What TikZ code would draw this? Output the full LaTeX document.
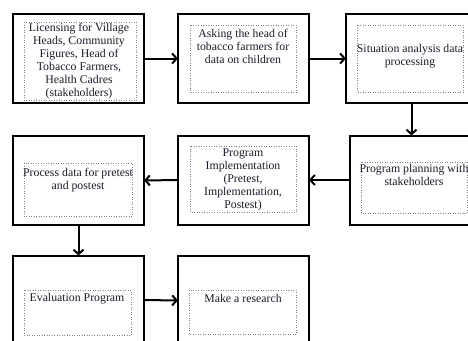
\documentclass[tikz,border=0pt]{standalone}
\usepackage{fontspec}
\setmainfont{Liberation Serif}
\usetikzlibrary{arrows.meta}
\definecolor{txt}{HTML}{1A1A2A}
\definecolor{dotc}{HTML}{808080}
\tikzset{
  outerbox/.style={draw=black, line width=2pt, minimum width=131pt, minimum height=89pt, inner sep=0pt, outer sep=0pt},
  innerbox/.style={draw=dotc, line width=0.5pt, dotted},
  lbl/.style={align=center, anchor=north, inner sep=0pt, text=txt, font=\fontsize{11.8}{13}\selectfont},
  arr/.style={line width=2pt, -{Straight Barb[length=4.5pt,width=10pt,line width=2pt]}}
}
\begin{document}
\begin{tikzpicture}[x=1pt,y=-1pt]
\useasboundingbox (0,0) rectangle (468,340);
\begin{scope}
\clip (0,0) rectangle (468,340);
% outer boxes
\node[outerbox] (b1) at (78.5,58.5) {};
\node[outerbox] (b2) at (243.5,58.5) {};
\node[outerbox] (b3) at (411.5,58.5) {};
\node[outerbox] (b4) at (415.5,180) {};
\node[outerbox] (b5) at (243.5,180) {};
\node[outerbox] (b6) at (78.5,180.5) {};
\node[outerbox] (b7) at (78.5,300) {};
\node[outerbox] (b8) at (243.5,300.5) {};
% inner dotted boxes
\draw[innerbox] (24,22) rectangle (136,100);
\draw[innerbox] (190,25) rectangle (296,92);
\draw[innerbox] (357,25) rectangle (463,92);
\draw[innerbox] (361,162) rectangle (467,213);
\draw[innerbox] (190,146) rectangle (296,212);
\draw[innerbox] (24,163) rectangle (132,216);
\draw[innerbox] (24,290) rectangle (131,335);
\draw[innerbox] (189,290) rectangle (296,334);
% texts
\node[lbl] (t1) at (79,23) {Licensing for Village\\Heads, Community\\Figures, Head of\\Tobacco Farmers,\\Health Cadres\\(stakeholders)};
\node[lbl] (t2) at (243,28.5) {Asking the head of\\tobacco farmers for\\data on children};
\node[lbl] (t3) at (410,44.5) {Situation analysis data\\processing};
\node[lbl] (t4) at (414,164.5) {Program planning with\\stakeholders};
\node[lbl] (t5) at (243,149) {Program\\Implementation\\(Pretest,\\Implementation,\\Postest)};
\node[lbl] (t6) at (78,167.5) {Process data for pretest\\and postest};
\node[lbl] (t7) at (77,293.5) {Evaluation Program};
\node[lbl] (t8) at (243,294.5) {Make a research};
% connectors
\draw[arr] (b1.east) -- (b2.west);
\draw[arr] (b2.east) -- (b3.west);
\draw[arr] (b3.south) -- (b3.south |- b4.north);
\draw[arr] (b4.west) -- (b5.east);
\draw[arr] (b5.west) -- (b6.east);
\draw[arr] (b6.south) -- (b7.north);
\draw[arr] (b7.east) -- (b8.west);
\end{scope}
\end{tikzpicture}
\end{document}
